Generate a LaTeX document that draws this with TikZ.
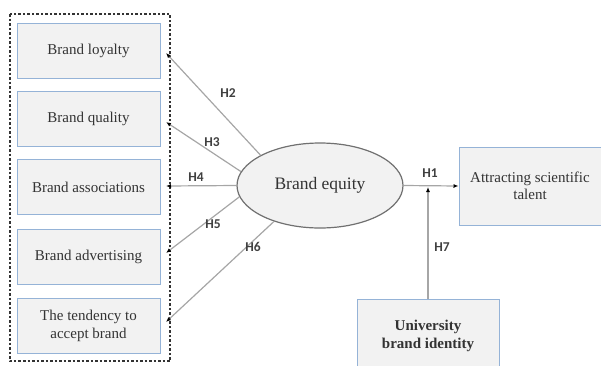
\documentclass[tikz,border=0pt]{standalone}
\usepackage{fontspec}
\setmainfont{Liberation Serif}
\newfontfamily\lblfont{Carlito}
\usetikzlibrary{shapes.geometric,arrows.meta}
\definecolor{boxfill}{HTML}{F2F2F2}
\definecolor{boxedge}{HTML}{95B3D7}
\definecolor{linegray}{HTML}{A6A6A6}
\definecolor{elledge}{HTML}{707070}
\tikzset{
  x=1pt,y=-1pt,
  leftbox/.style={draw=boxedge,line width=1pt,fill=boxfill,minimum width=143pt,minimum height=55pt,inner sep=0pt,align=center,font=\fontsize{15}{17.5}\selectfont,text=black!80},
  rightbox/.style={draw=boxedge,line width=1pt,fill=boxfill,minimum width=142pt,inner sep=0pt,align=center,font=\fontsize{15}{17.5}\selectfont,text=black!80},
  conn/.style={draw=linegray,line width=1.2pt,-{Latex[length=5pt,width=4pt,black]}},
  hlbl/.style={font=\lblfont\bfseries\fontsize{13.5}{15}\selectfont,text=black!75,inner sep=0pt},
}
\begin{document}
\begin{tikzpicture}
\useasboundingbox (0,0) rectangle (601,365);
\draw[black!80,line width=1.1pt,dash pattern=on 2.5pt off 2pt] (10,14) rectangle (170,361);
\node[leftbox] (b1) at (88.5,51) {Brand loyalty};
\node[leftbox] (b2) at (88.5,119) {Brand quality};
\node[leftbox] (b3) at (88.5,187) {Brand associations};
\node[leftbox] (b4) at (88.5,256.5) {Brand advertising};
\node[leftbox] (b5) at (88.5,326) {The tendency to\\accept brand};
\node[ellipse,draw=elledge,line width=1.2pt,fill=boxfill,minimum width=166pt,minimum height=85pt,inner sep=0pt,font=\fontsize{17.5}{19}\selectfont,text=black!80] (be) at (320,185.5) {Brand equity};
\node[rightbox,minimum height=78pt] (at) at (530,186) {Attracting scientific\\talent};
\begin{scope}
\clip (0,0) rectangle (601,365);
\node[rightbox,minimum height=90pt,font=\bfseries\fontsize{15}{17.5}\selectfont] (ub) at (428,344) {University\\brand identity\\[2pt]};
\end{scope}
\coordinate (t1) at (166,53);
\coordinate (t2) at (166,122);
\coordinate (t3) at (166,186);
\coordinate (t4) at (166,253);
\coordinate (t5) at (166,322);
\coordinate (j) at (428,187);
\draw[conn] (be.153) -- (t1);
\draw[conn] (be.170) -- (t2);
\draw[conn] (be.west) -- (t3);
\draw[conn] (be.188) -- (t4);
\draw[conn] (be.218) -- (t5);
\draw[conn] (be.east) -- (at.west);
\draw[conn] (ub.north) -- (j);
\node[hlbl] (h1) at (430,173) {H1};
\node[hlbl] (h2) at (228,93) {H2};
\node[hlbl] (h3) at (212,142) {H3};
\node[hlbl] (h4) at (196,177) {H4};
\node[hlbl] (h5) at (213,224) {H5};
\node[hlbl] (h6) at (253,247) {H6};
\node[hlbl] (h7) at (442,247) {H7};
\end{tikzpicture}
\end{document}
